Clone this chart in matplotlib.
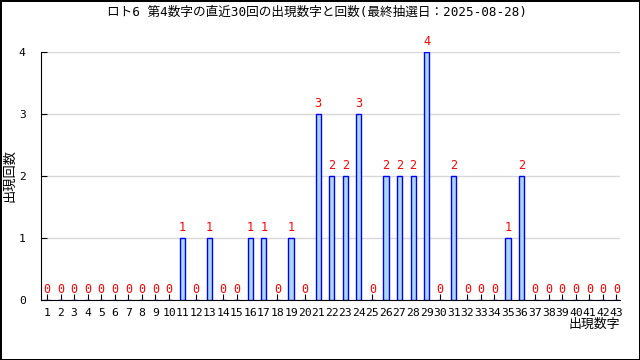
import matplotlib
matplotlib.use("Agg")
import matplotlib.pyplot as plt

plt.rcParams['font.family'] = ['DejaVu Sans Mono', 'Noto Sans CJK JP']

TITLE = "ロト6 第4数字の直近30回の出現数字と回数(最終抽選日：2025-08-28)"
numbers = list(range(1, 44))
counts = [0, 0, 0, 0, 0, 0, 0, 0, 0, 0,
          1, 0, 1, 0, 0, 1, 1, 0, 1, 0,
          3, 2, 2, 3, 0, 2, 2, 2, 4, 0,
          2, 0, 0, 0, 1, 2, 0, 0, 0, 0,
          0, 0, 0]
yticks = [0, 1, 2, 3, 4]

fig = plt.figure(figsize=(6.4, 3.6), dpi=100, linewidth=1, edgecolor="black")
ax = fig.add_axes([41 / 640, 60 / 360, 579 / 640, 248 / 360])

ax.bar(numbers, counts, width=0.38, color="lightblue", edgecolor="blue", linewidth=1, zorder=3)
for n, c in zip(numbers, counts):
    ax.annotate(str(c), (n, c), xytext=(0, 3), textcoords="offset points",
                ha="center", va="bottom", color="red", fontsize=8.5)

ax.set_xlim(0.56, 43.26)
ax.set_ylim(0, 4)
ax.set_xticks(numbers)
ax.set_xticklabels([str(n) for n in numbers], fontsize=8.2)
ax.set_yticks(yticks)
ax.set_yticklabels([str(v) for v in yticks], fontsize=8.2)
ax.tick_params(axis="x", direction="in", length=4, pad=6)
ax.tick_params(axis="y", direction="in", length=4, pad=11)
ax.grid(axis="y", color="#d8d8d8", lw=1, zorder=0)
for s in ("top", "right"):
    ax.spines[s].set_visible(False)

fig.text(317 / 640, 1 - 12 / 360, TITLE, ha="center", va="center", fontsize=9.1)
fig.text(620 / 640, 1 - 324 / 360, "出現数字", ha="right", va="center", fontsize=9.3,
         family=['Noto Sans CJK JP'])
fig.text(10 / 640, 1 - 176 / 360, "出現回数", ha="center", va="center", rotation=90,
         fontsize=9.5, family=['Noto Sans CJK JP'])

fig.savefig("out.png", dpi=100)
